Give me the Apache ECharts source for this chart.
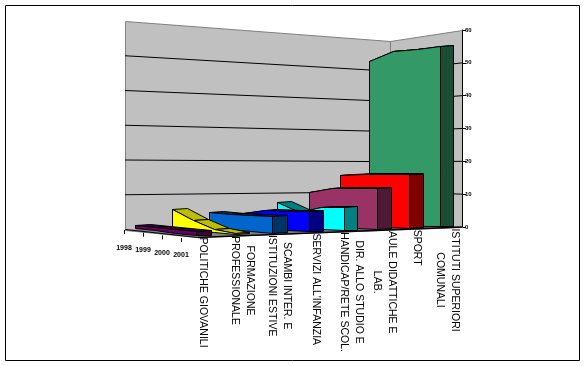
<!DOCTYPE html>
<html>
<head>
<meta charset="utf-8">
<style>html,body{margin:0;padding:0;background:#fff}#c{width:585px;height:366px}</style>
<script src="https://cdn.jsdelivr.net/npm/echarts@6/dist/echarts.min.js"></script>
</head>
<body>
<div id="c"></div>
<script>
const categories = ["POLITICHE GIOVANILI","FORMAZIONE\nPROFESSIONALE","SCAMBI INTER. E\nISTITUZIONI ESTIVE","SERVIZI ALL'INFANZIA","DIR. ALLO STUDIO E\nHANDICAP/RETE SCOL.","AULE DIDATTICHE E\nLAB.","SPORT","ISTITUTI SUPERIORI\nCOMUNALI"];
const years = ["1998","1999","2000","2001"];
const yTicks = [10,20,30,40,50];
const politiche = [0.9,1.1,1.3,1.4];
const formazione = [5.7,3.0,0.9,0.4];
const scambi = [4.7,4.6,4.9,5.1];
const servizi = [4.4,5.6,5.8,6.2];
const dirStudio = [7.5,4.9,6.7,7.1];
const aule = [10.5,12.0,12.2,12.5];
const sport = [15.6,16.0,16.1,16.3];
const istituti = [50.3,53.3,54.0,55.0];
const seriesValues = [politiche,formazione,scambi,servizi,dirStudio,aule,sport,istituti];
const faceColors = ['#660066','#FFFF00','#0066CC','#0000FF','#00FFFF','#993366','#FF0000','#339966'];
const darkColors = ['#400040','#BDBD00','#003366','#000080','#008080','#4D1A33','#800000','#1A4D33'];

const FONT = '10.5px "Liberation Sans"';
const ctx = document.createElement('canvas').getContext('2d');
ctx.font = FONT;
const warp = t => -4 + 5.8*t - 0.69*t*t;
const lerp = (a,b,f) => a + (b-a)*f;
const px = p => [Math.round(p[0])+0.5, Math.round(p[1])+0.5];

function geom(api, t){
  const zero = api.coord([t,0]);
  const front = zero[0] + warp(t) - 7.5;
  const depth = 61 + 1.4*t;
  const yF = 235.2 - 1.25*t, yB = 228 - 0.3*t;
  return {front, depth, yF, yB, zeroY: zero[1], cap: 15 - 0.3*t};
}
function renderArea(params, api){
  const t = api.value(0);
  const g = geom(api,t);
  const bottoms = [], tops = [];
  for(let j=0;j<4;j++){
    const f=j/3, x=g.front-g.depth*(1-f), base=lerp(g.yB,g.yF,f);
    const h=g.zeroY-api.coord([t,api.value(j+1)])[1];
    bottoms.push([x,base]); tops.push([x,base-h]);
  }
  const stroke={stroke:'#000',lineWidth:1};
  const kids=[];
  const poly=(pts,fill)=>({type:'polygon',shape:{points:pts.map(px)},style:{fill,...stroke}});
  for(let j=0;j<3;j++){
    const a=tops[j],b=tops[j+1],w=g.cap;
    kids.push(poly([a,[a[0]+w,a[1]-1],[b[0]+w,b[1]-1],b],darkColors[t]));
  }
  kids.push(poly(tops.concat(bottoms.slice().reverse()),faceColors[t]));
  const a=tops[3],b=bottoms[3],w=g.cap;
  kids.push(poly([a,[a[0]+w,a[1]-0.5],[b[0]+w,b[1]-0.5],b],darkColors[t]));
  return {type:'group',children:kids};
}
function renderWalls(params, api){
  const top=api.coord([0,60])[1], zero=api.coord([0,0])[1];
  const axisX=462, L=125, C=390, y=v=>api.coord([0,v])[1];
  const yL=v=>229.5-(229.5-21)*v/60, yC=v=>222-(222-41)*v/60;
  const grey={stroke:'#808080',lineWidth:1};
  const kids=[
    {type:'polygon',shape:{points:[[L,yL(60)],[C,yC(60)],[C,yC(0)],[L,yL(0)]].map(px)},style:{fill:'#C0C0C0',...grey}},
    {type:'polygon',shape:{points:[[C,yC(60)],[axisX,top],[axisX,zero],[C,yC(0)]].map(px)},style:{fill:'#C0C0C0',...grey}},
    {type:'polygon',shape:{points:[[L,yL(0)],[C,yC(0)],[axisX,zero],[197,237]].map(px)},style:{fill:'#808080',stroke:'#808080'}},
    {type:'line',shape:{x1:197.5,y1:237.5,x2:axisX+.5,y2:zero},style:{stroke:'#000',lineWidth:1.5}},
    {type:'line',shape:{x1:L+.5,y1:yL(0),x2:197.5,y2:237.5},style:{stroke:'#000',lineWidth:1}}
  ];
  yTicks.forEach(v=>{
    kids.push({type:'line',shape:{x1:L,y1:yL(v),x2:C,y2:yC(v)},style:{stroke:'#000',lineWidth:1}});
    kids.push({type:'line',shape:{x1:C,y1:yC(v),x2:axisX,y2:y(v)},style:{stroke:'#000',lineWidth:1}});
  });
  kids.push({type:'line',shape:{x1:axisX+.5,y1:top,x2:axisX+.5,y2:zero},style:{stroke:'#000',lineWidth:1}});
  years.forEach((yr,j)=>{
    const tx=124.5+j*19, ty=230+j*2.7;
    kids.push({type:'line',shape:{x1:tx,y1:ty,x2:tx,y2:ty+4},style:{stroke:'#000',lineWidth:1}});
    kids.push({type:'text',x:124+j*19,y:248+j*2.4,style:{text:yr,font:'bold 7px "Liberation Sans"',fill:'#000',align:'center',verticalAlign:'middle'}});
  });
  return {type:'group',children:kids};
}
function renderLabel(params, api){
  const t=api.value(0);
  const name=categories[t];
  const zero=api.coord([t,0]);
  const longest=Math.max(...name.split('\n').map(s=>ctx.measureText(s).width));
  return {type:'text',x:zero[0]+warp(t),y:237.5-1.3*t+longest/2,rotation:-Math.PI/2,
    style:{text:name,font:FONT,fill:'#000',align:'center',verticalAlign:'middle',lineHeight:15}};
}

const areaSeries = seriesValues.map((vals,i)=>({
  type:'custom',coordinateSystem:'cartesian2d',renderItem:renderArea,clip:false,silent:true,z:3+(7-i),
  encode:{x:0,y:[1,2,3,4]},data:[[i,...vals]]
})).reverse();

const chart = echarts.init(document.getElementById('c'),null,{renderer:'canvas',width:585,height:366});
chart.setOption({
  animation:false,
  backgroundColor:'#fff',
  tooltip:{show:false},
  legend:{show:false},
  grid:{left:190,top:30,width:272,height:197},
  xAxis:{type:'category',data:categories,boundaryGap:true,axisLine:{show:false},axisTick:{show:false},axisLabel:{show:false},splitLine:{show:false}},
  yAxis:{type:'value',position:'right',min:0,max:60,interval:10,
    axisLine:{show:true,lineStyle:{color:'#000'}},
    axisTick:{show:true,length:4,lineStyle:{color:'#000'}},
    axisLabel:{fontSize:6,fontWeight:'bold',color:'#000',margin:3,fontFamily:'Liberation Sans'},
    splitLine:{show:false}},
  graphic:[{type:'rect',shape:{x:5.5,y:5.5,width:574,height:355},style:{fill:'none',stroke:'#000',lineWidth:1},z:0}],
  series:[
    {type:'custom',coordinateSystem:'cartesian2d',renderItem:renderWalls,clip:false,silent:true,z:1,encode:{x:0,y:1},data:[[0,0]]},
    ...areaSeries,
    {type:'custom',coordinateSystem:'cartesian2d',renderItem:renderLabel,clip:false,silent:true,z:20,encode:{x:0,y:1},data:categories.map((c,i)=>[i,0])}
  ]
});
</script>
</body>
</html>
